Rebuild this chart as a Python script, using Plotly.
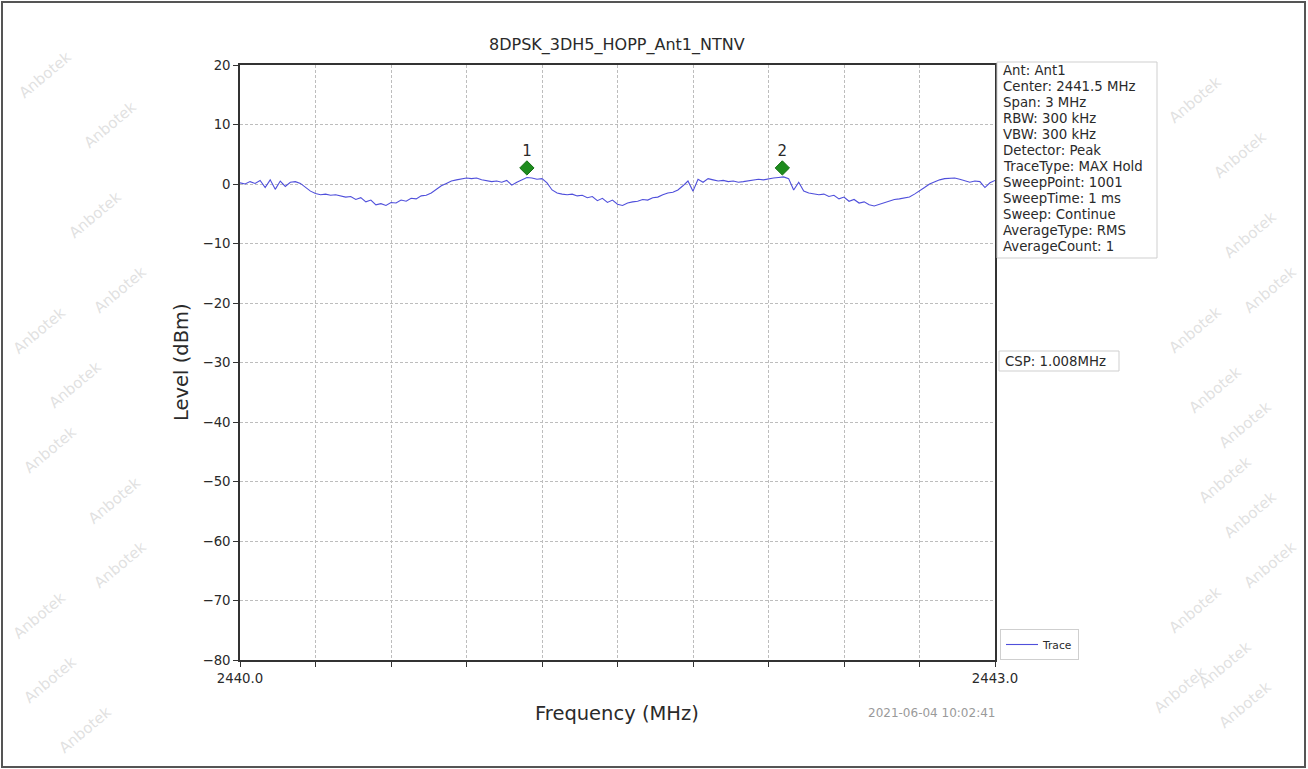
import plotly.graph_objects as go

# ---- data ----
freq_mhz = [
    2440.00, 2440.02, 2440.04, 2440.06, 2440.08, 2440.10, 2440.12, 2440.14, 2440.16, 2440.18,
    2440.20, 2440.22, 2440.24, 2440.26, 2440.28, 2440.30, 2440.32, 2440.34, 2440.36, 2440.38,
    2440.40, 2440.42, 2440.44, 2440.46, 2440.48, 2440.50, 2440.52, 2440.54, 2440.56, 2440.58,
    2440.60, 2440.62, 2440.64, 2440.66, 2440.68, 2440.70, 2440.72, 2440.74, 2440.76, 2440.78,
    2440.80, 2440.82, 2440.84, 2440.86, 2440.88, 2440.90, 2440.92, 2440.94, 2440.96, 2440.98,
    2441.00, 2441.02, 2441.04, 2441.06, 2441.08, 2441.10, 2441.12, 2441.14, 2441.16, 2441.18,
    2441.20, 2441.22, 2441.24, 2441.26, 2441.28, 2441.30, 2441.32, 2441.34, 2441.36, 2441.38,
    2441.40, 2441.42, 2441.44, 2441.46, 2441.48, 2441.50, 2441.52, 2441.54, 2441.56, 2441.58,
    2441.60, 2441.62, 2441.64, 2441.66, 2441.68, 2441.70, 2441.72, 2441.74, 2441.76, 2441.78,
    2441.80, 2441.82, 2441.84, 2441.86, 2441.88, 2441.90, 2441.92, 2441.94, 2441.96, 2441.98,
    2442.00, 2442.02, 2442.04, 2442.06, 2442.08, 2442.10, 2442.12, 2442.14, 2442.16, 2442.18,
    2442.20, 2442.22, 2442.24, 2442.26, 2442.28, 2442.30, 2442.32, 2442.34, 2442.36, 2442.38,
    2442.40, 2442.42, 2442.44, 2442.46, 2442.48, 2442.50, 2442.52, 2442.54, 2442.56, 2442.58,
    2442.60, 2442.62, 2442.64, 2442.66, 2442.68, 2442.70, 2442.72, 2442.74, 2442.76, 2442.78,
    2442.80, 2442.82, 2442.84, 2442.86, 2442.88, 2442.90, 2442.92, 2442.94, 2442.96, 2442.98,
    2443.00,
]
level_dbm = [
    0.2, 0.0, 0.4, 0.1, 0.6, -0.6, 0.7, -0.9, 0.5, -0.4,
    0.3, 0.4, 0.1, -0.6, -1.2, -1.6, -1.8, -1.7, -1.9, -1.8,
    -2.0, -2.2, -2.1, -2.6, -2.3, -3.0, -2.7, -3.5, -3.3, -3.6,
    -3.1, -3.2, -2.7, -2.9, -2.4, -2.5, -2.0, -1.9, -1.5, -0.9,
    -0.3, 0.1, 0.5, 0.7, 0.9, 1.0, 0.9, 1.0, 0.7, 0.6,
    0.4, 0.5, 0.3, 0.6, -0.2, 0.3, 0.7, 1.1, 1.0, 0.8,
    0.9, 0.2, -1.0, -1.5, -1.7, -1.8, -1.7, -2.0, -1.9, -2.3,
    -2.1, -2.8, -2.4, -3.1, -2.7, -3.4, -3.6, -3.2, -3.0, -2.9,
    -2.6, -2.7, -2.3, -2.2, -1.8, -1.5, -1.4, -1.0, -0.3, 0.5,
    -1.2, 0.8, 0.3, 0.9, 0.7, 0.5, 0.6, 0.4, 0.5, 0.3,
    0.4, 0.5, 0.7, 0.8, 0.7, 0.9, 1.0, 1.1, 1.2, 0.9,
    -1.0, 0.3, -1.2, -1.5, -1.7, -1.8, -1.7, -2.1, -1.9, -2.5,
    -2.2, -2.9, -2.6, -3.2, -3.0, -3.5, -3.7, -3.4, -3.1, -2.9,
    -2.6, -2.5, -2.3, -2.2, -1.7, -1.2, -0.6, 0.0, 0.4, 0.7,
    0.9, 1.0, 1.0, 0.8, 0.6, 0.3, 0.5, 0.4, -0.6, 0.2,
    0.6,
]
marker_freq = [2441.14, 2442.155]
marker_level = [2.7, 2.7]
marker_labels = ["1", "2"]

x_tick_vals = [2440.0, 2440.3, 2440.6, 2440.9, 2441.2, 2441.5, 2441.8, 2442.1, 2442.4, 2442.7, 2443.0]
x_tick_text = ["2440.0", "", "", "", "", "", "", "", "", "", "2443.0"]
y_tick_vals = [20, 10, 0, -10, -20, -30, -40, -50, -60, -70, -80]

title_text = "8DPSK_3DH5_HOPP_Ant1_NTNV"
info_lines = [
    "Ant: Ant1", "Center: 2441.5 MHz", "Span: 3 MHz", "RBW: 300 kHz", "VBW: 300 kHz",
    "Detector: Peak", "TraceType: MAX Hold", "SweepPoint: 1001", "SweepTime: 1 ms",
    "Sweep: Continue", "AverageType: RMS", "AverageCount: 1",
]
csp_text = "CSP: 1.008MHz"
timestamp_text = "2021-06-04 10:02:41"
watermark_text = "Anbotek"

# ---- layout geometry (pixels in the 1308x769 page) ----
W, H = 1308, 769
L, R, T, B = 240, 313, 65, 109
PW, PH = W - L - R, H - T - B


def pp(x, y):
    return (x - L) / PW, (H - B - y) / PH


FONT = "DejaVu Sans, Verdana, sans-serif"
TXT = "#2a2a2a"

fig = go.Figure()
fig.add_trace(go.Scatter(
    x=freq_mhz, y=level_dbm, mode="lines", name="Trace",
    line=dict(color="rgba(60,60,215,0.9)", width=1.1),
))
fig.add_trace(go.Scatter(
    x=marker_freq, y=marker_level, mode="markers+text", text=marker_labels,
    textposition="top center", textfont=dict(size=15, color=TXT, family=FONT),
    marker=dict(symbol="diamond", size=11, color="#1e8c1e", line=dict(color="#137013", width=1)),
    showlegend=False, hoverinfo="skip",
))

annotations = []


def add_text(x, y, text, size, color=TXT, xanchor="center", yanchor="middle", angle=0):
    px, py = pp(x, y)
    annotations.append(dict(x=px, y=py, xref="paper", yref="paper", text=text, showarrow=False,
                            textangle=angle, font=dict(size=size, color=color, family=FONT),
                            xanchor=xanchor, yanchor=yanchor))


add_text(617, 45, title_text, 16)
add_text(617, 713, "Frequency (MHz)", 19.5)
add_text(181, 362, "Level (dBm)", 19.5, angle=-90)
add_text(931, 713, timestamp_text, 12, color="#9a9a9a")

shapes = []


def add_box(x0, y0, x1, y1, color="#cfcfcf"):
    a, b = pp(x0, y0)
    c, d = pp(x1, y1)
    shapes.append(dict(type="rect", xref="paper", yref="paper", x0=a, x1=c, y0=d, y1=b,
                       line=dict(color=color, width=1), fillcolor="white", layer="above"))


# info box
add_box(997, 62, 1157, 258)
for i, line in enumerate(info_lines):
    add_text(1001, 70.5 + 16 * i, line, 13.3, xanchor="left")

# CSP box
add_box(999, 351, 1119, 371)
add_text(1003, 361, csp_text, 13.3, xanchor="left")

# faint watermarks
wm_positions = [
    (45, 75), (110, 125), (95, 215), (120, 290), (40, 330), (75, 385), (50, 450), (115, 500),
    (120, 565), (40, 615), (50, 680), (85, 730),
    (1195, 100), (1240, 155), (1250, 235), (1270, 290), (1195, 330), (1215, 390), (1245, 425),
    (1225, 480), (1250, 515), (1270, 565), (1195, 610), (1225, 665), (1180, 690), (1245, 705),
]
for (wx, wy) in wm_positions:
    add_text(wx, wy, watermark_text, 15, color="rgba(195,195,195,0.5)", angle=-40)

# outer frame
fx0, fy1 = pp(2, 2)
fx1, fy0 = pp(1305, 767)
shapes.append(dict(type="rect", xref="paper", yref="paper", x0=fx0, x1=fx1, y0=fy0, y1=fy1,
                   line=dict(color="#555", width=2), fillcolor="rgba(0,0,0,0)", layer="below"))

axis_common = dict(
    showline=True, linecolor="#333", linewidth=1.5, mirror=True,
    ticks="outside", ticklen=5, tickcolor="#333", tickwidth=1,
    showgrid=True, gridcolor="#bdbdbd", gridwidth=0.8, griddash="3px,2px",
    zeroline=False, tickfont=dict(size=13.3, color=TXT, family=FONT),
)

fig.update_layout(
    width=W, height=H,
    margin=dict(l=L, r=R, t=T, b=B, autoexpand=False),
    paper_bgcolor="white", plot_bgcolor="white",
    font=dict(family=FONT, color=TXT),
    xaxis=dict(range=[2440.0, 2443.0], tickmode="array", tickvals=x_tick_vals, ticktext=x_tick_text,
               **axis_common),
    yaxis=dict(range=[-80, 20], tickmode="array", tickvals=y_tick_vals, **axis_common),
    legend=dict(x=pp(1000, 0)[0], y=0, xanchor="left", yanchor="bottom",
                bgcolor="white", bordercolor="#cfcfcf", borderwidth=1,
                font=dict(size=10.7, color=TXT, family=FONT), itemwidth=32),
    showlegend=True,
    annotations=annotations,
    shapes=shapes,
)

fig.write_html("out.html", config={"displayModeBar": False},
               post_script="document.body.style.margin='0';document.body.style.overflow='hidden';")
